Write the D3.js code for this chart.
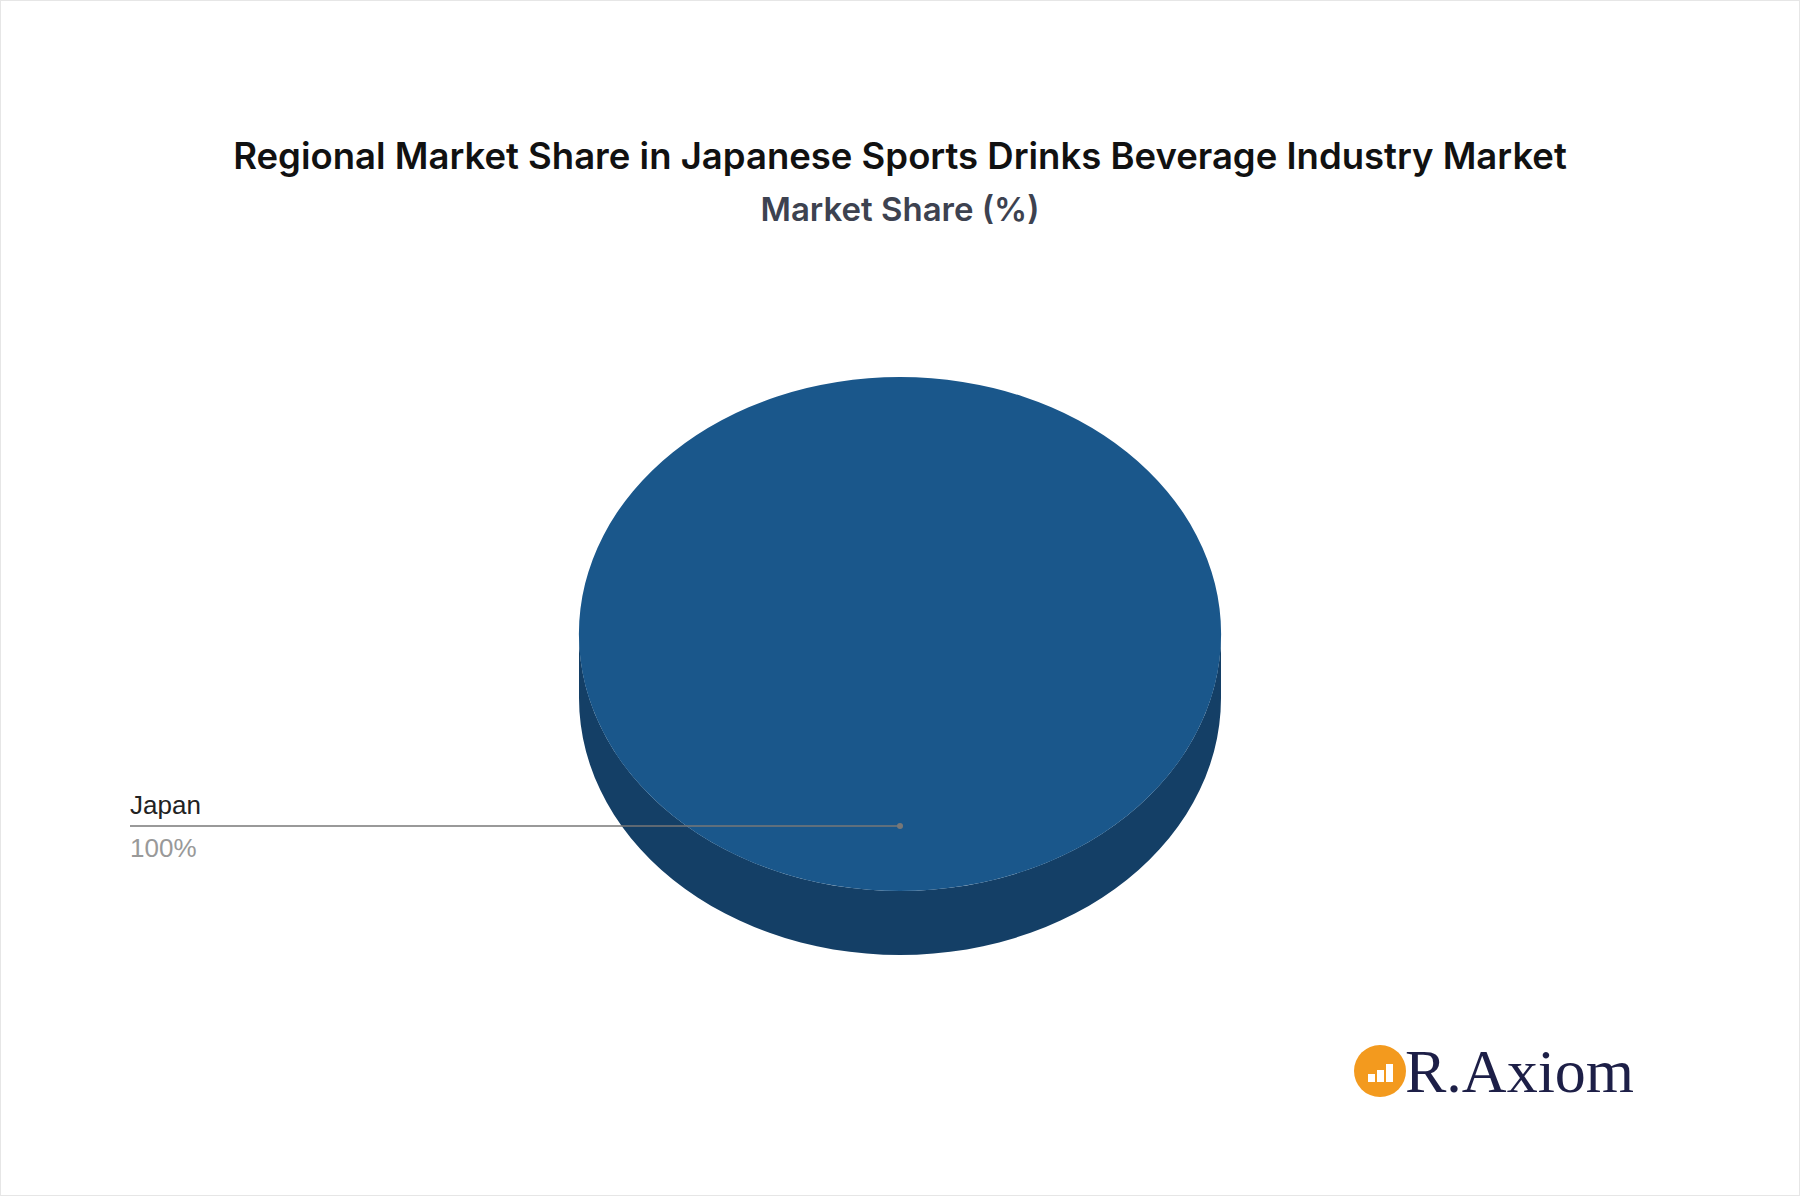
<!DOCTYPE html>
<html><head><meta charset="utf-8">
<script src="https://cdn.jsdelivr.net/npm/d3@7"></script>
<style>body{margin:0;background:#fff}</style></head>
<body><svg id="c" width="1800" height="1196"></svg>
<script>
const categories=["Japan"];
const values=[100];
const colors=["#1a578b"];
const sideColors=["#143f66"];
const svg=d3.select("#c");
svg.append("rect").attr("x",0.5).attr("y",0.5).attr("width",1799).attr("height",1195).attr("fill","#fff").attr("stroke","#e6e6e6");
svg.append("text").attr("x",900).attr("y",169).attr("text-anchor","middle").attr("font-family","Inter").attr("font-weight",600).attr("font-size",36.5).attr("fill","#111").text("Regional Market Share in Japanese Sports Drinks Beverage Industry Market");
svg.append("text").attr("x",900).attr("y",221).attr("text-anchor","middle").attr("font-family","Inter").attr("font-weight",600).attr("font-size",33).attr("fill","#3d4250").text("Market Share (%)");
const cx=900,cy=634,rx=321,ry=257,depth=64;
const pie=d3.pie().sort(null)(values);
const g=svg.append("g");
pie.forEach((p,i)=>{
  const a0=Math.max(p.startAngle,Math.PI/2), a1=Math.min(p.endAngle,3*Math.PI/2);
  if(a1<=a0) return;
  const pt=(a,d)=>[cx+rx*Math.sin(a), cy-ry*Math.cos(a)+d];
  const path=d3.path();
  const n=60;
  for(let k=0;k<=n;k++){const a=a0+(a1-a0)*k/n;const [x,y]=pt(a,0);k?path.lineTo(x,y):path.moveTo(x,y);}
  for(let k=n;k>=0;k--){const a=a0+(a1-a0)*k/n;const [x,y]=pt(a,depth);path.lineTo(x,y);}
  path.closePath();
  g.append("path").attr("d",path.toString()).attr("fill",sideColors[i]);
});
const arc=d3.arc().innerRadius(0).outerRadius(rx);
g.selectAll(".top").data(pie).join("path").attr("d",arc)
 .attr("transform",`translate(${cx},${cy}) scale(1,${ry/rx})`).attr("fill",(d,i)=>colors[i]);
const ly=826;
svg.append("line").attr("x1",130).attr("x2",cx).attr("y1",ly).attr("y2",ly).attr("stroke","#777").attr("stroke-width",1.5);
svg.append("circle").attr("cx",cx).attr("cy",ly).attr("r",3).attr("fill","#777");
svg.append("text").attr("x",130).attr("y",814).attr("font-family","Liberation Sans").attr("font-size",26).attr("fill","#222").text(categories[0]);
svg.append("text").attr("x",130).attr("y",857).attr("font-family","Liberation Sans").attr("font-size",26).attr("fill","#999").text(values[0]+"%");
const lg=svg.append("g");
lg.append("circle").attr("cx",1380).attr("cy",1071).attr("r",26).attr("fill","#f39a1e");
[[1368,8],[1377,12],[1386,18]].forEach(([x,h])=>lg.append("rect").attr("x",x).attr("y",1082-h).attr("width",7).attr("height",h).attr("fill","#fff"));
lg.append("text").attr("x",1405).attr("y",1092).attr("font-family","Liberation Serif").attr("font-size",62).attr("fill","#1d1f47").text("R.Axiom");
</script></body></html>
